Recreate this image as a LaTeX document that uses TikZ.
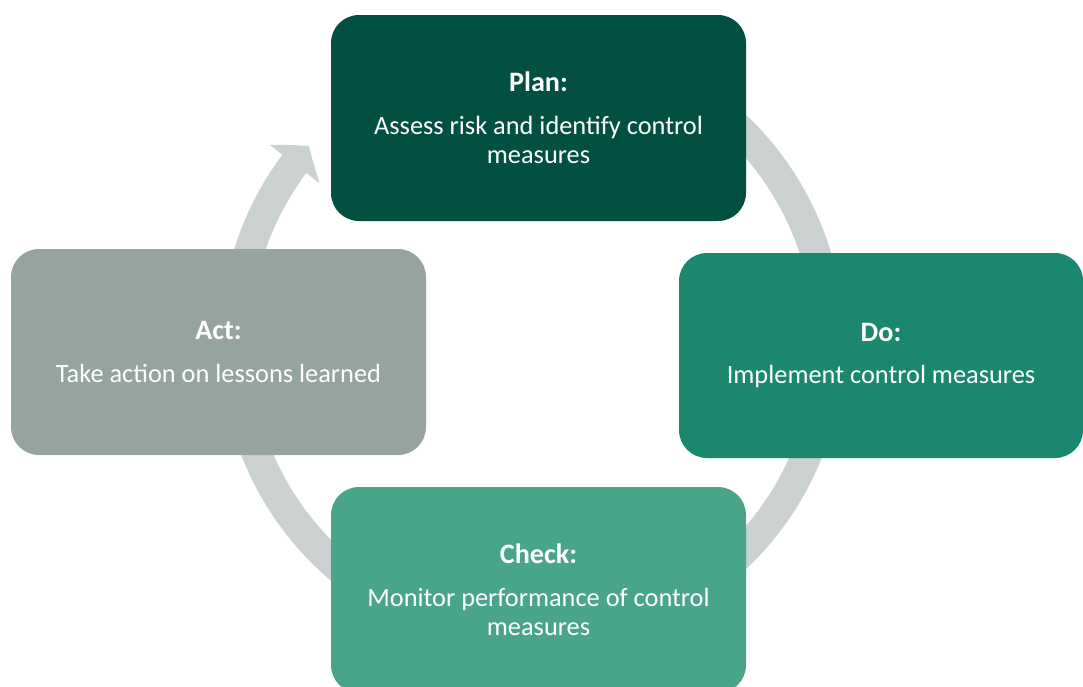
\documentclass[tikz,border=0pt]{standalone}
\usepackage{fontspec}
\setmainfont{Carlito}
\usetikzlibrary{positioning,arrows.meta,bending}

\definecolor{plangreen}{RGB}{2,80,66}
\definecolor{dogreen}{RGB}{27,135,111}
\definecolor{checkgreen}{RGB}{73,165,138}
\definecolor{actgrey}{RGB}{149,165,158}
\definecolor{ringgrey}{RGB}{203,209,208}

\begin{document}
\begin{tikzpicture}[
    stage/.style={rectangle, rounded corners=0.28cm, minimum width=4.15cm, minimum height=2.06cm, align=center, text=white, font=\fontsize{7.5}{8.4}\selectfont},
    ring/.style={ringgrey, line width=0.3cm, -{Triangle[length=2.3mm, width=6.2mm, bend]}}
]
\useasboundingbox (0,0) rectangle (10.83,6.86);

% Cycle
\coordinate (hub) at (5.32,3.44);
\draw[ring] (hub) ++(120:2.97) arc[start angle=120, end angle=-221.3, radius=2.97];

% Stages
\node[stage, fill=plangreen] (plan) at (5.385,5.68) {{\bfseries\fontsize{8}{8.4}\selectfont Plan:}\\[3.8pt]Assess risk and identify control\\measures};
\node[stage, fill=dogreen, minimum width=4.04cm, minimum height=2.05cm] (do) at (8.81,3.305) {{\bfseries\fontsize{8}{8.4}\selectfont Do:}\\[3.8pt]Implement control measures};
\node[stage, fill=checkgreen] (check) at (5.385,0.96) {{\bfseries\fontsize{8}{8.4}\selectfont Check:}\\[3.8pt]Monitor performance of control\\measures};
\node[stage, fill=actgrey] (act) at (2.185,3.34) {{\bfseries\fontsize{8}{8.4}\selectfont Act:}\\[3.8pt]Take action on lessons learned};

\end{tikzpicture}
\end{document}
